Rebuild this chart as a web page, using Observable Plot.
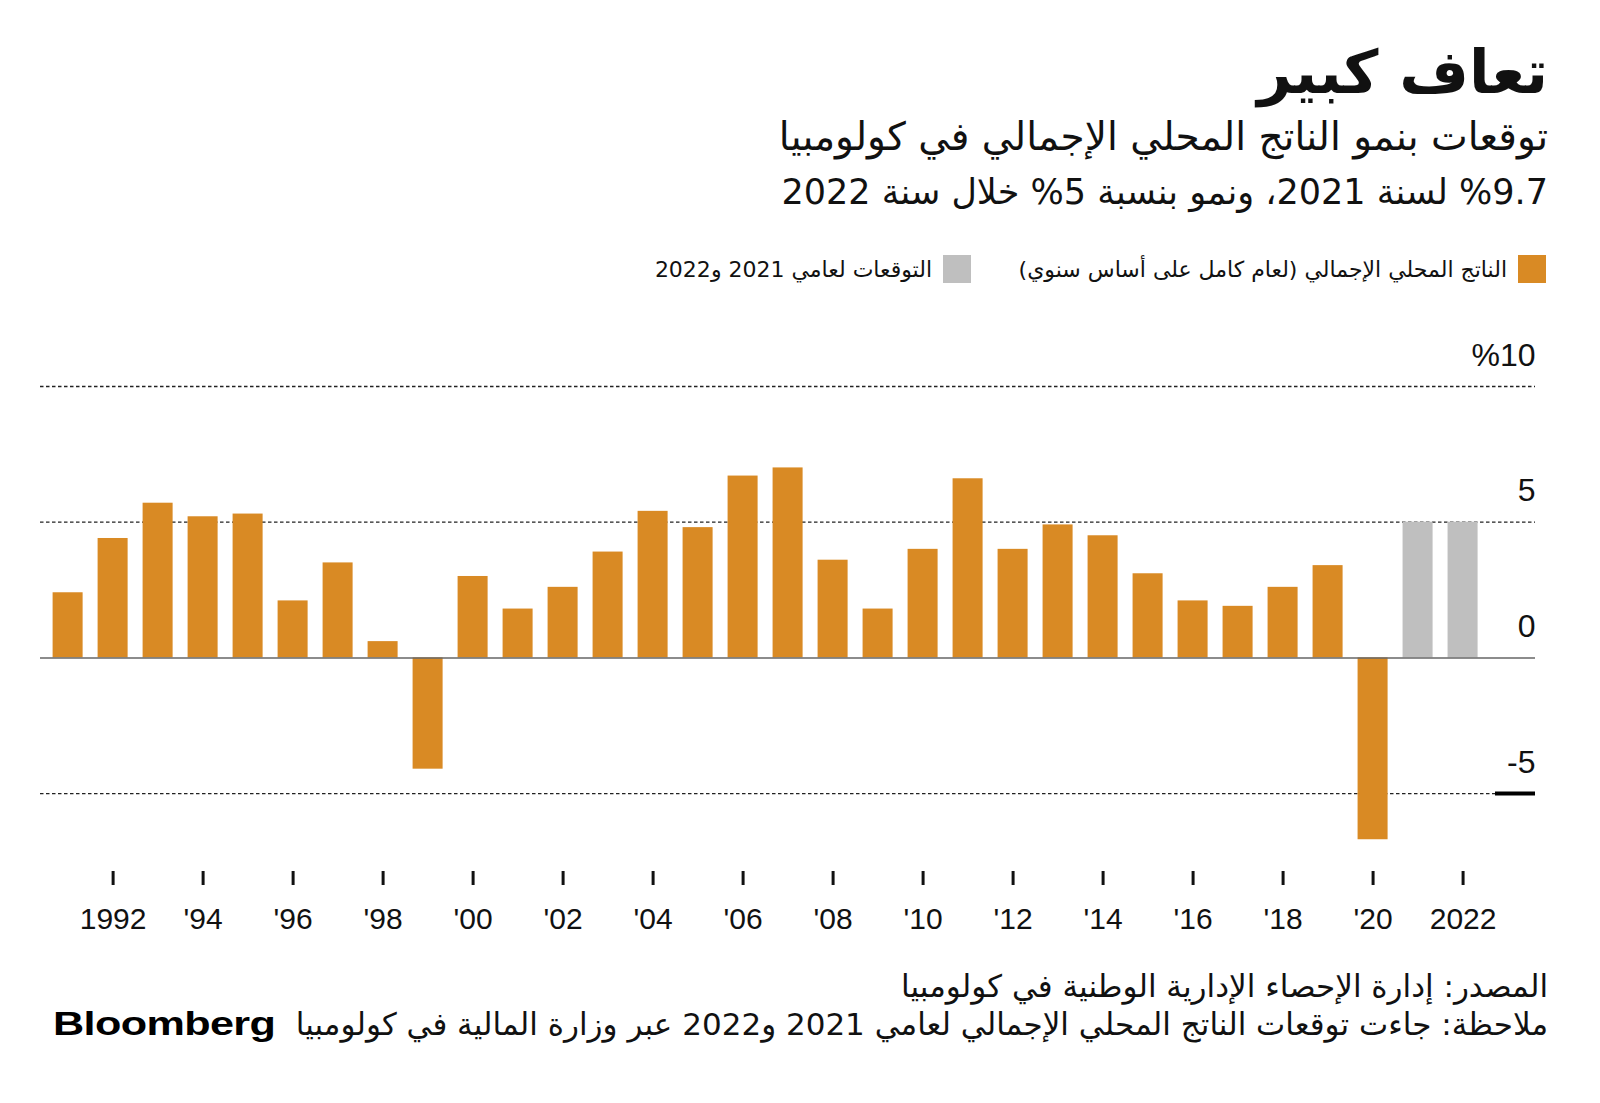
<!DOCTYPE html>
<html>
<head>
<meta charset="utf-8">
<script src="https://cdn.jsdelivr.net/npm/d3@7"></script>
<script src="https://cdn.jsdelivr.net/npm/@observablehq/plot@0.6"></script>
<style>
  html, body { margin: 0; padding: 0; background: #fff; }
  #root { position: relative; width: 1600px; height: 1103px; overflow: hidden; background: #fff; }
  .ar { position: absolute; direction: rtl; white-space: nowrap; font-family: "DejaVu Sans", sans-serif; color: #111; }
  #title { right: 52px; top: 36px; font-size: 60px; font-weight: bold; line-height: 72px; }
  #sub1 { right: 52px; top: 114px; font-size: 39px; line-height: 46px; }
  #sub2 { right: 52px; top: 170px; font-size: 35px; line-height: 44px; }
  .leg { position: absolute; top: 255px; height: 28px; display: flex; flex-direction: row-reverse; align-items: center; gap: 11px; }
  .sw { width: 28px; height: 28px; flex: none; }
  .lt { font-family: "DejaVu Sans", sans-serif; font-size: 22px; color: #111; direction: rtl; white-space: nowrap; }
  #chart { position: absolute; left: 0; top: 320px; }
  #src { right: 52px; top: 967px; font-size: 31px; line-height: 38px; }
  #note { right: 52px; top: 1005px; font-size: 31px; line-height: 38px; }
  #logo { position: absolute; left: 53px; top: 1003px; font-family: "Liberation Sans", Arial, sans-serif; font-weight: bold; font-size: 34px; line-height: 40px; letter-spacing: -0.5px; transform: scaleX(1.27); transform-origin: left center; color: #000; }
</style>
</head>
<body>
<div id="root">
  <div id="title" class="ar">تعاف كبير</div>
  <div id="sub1" class="ar">توقعات بنمو الناتج المحلي الإجمالي في كولومبيا</div>
  <div id="sub2" class="ar">%9.7 لسنة 2021، ونمو بنسبة 5% خلال سنة 2022</div>
  <div class="leg" style="right:54px;"><div class="sw" style="background:#D98A24"></div><div class="lt">الناتج المحلي الإجمالي (لعام كامل على أساس سنوي)</div></div>
  <div class="leg" style="right:629px;"><div class="sw" style="background:#BFBFBF"></div><div class="lt">التوقعات لعامي 2021 و2022</div></div>
  <div id="chart"></div>
  <div id="src" class="ar">المصدر: إدارة الإحصاء الإدارية الوطنية في كولومبيا</div>
  <div id="note" class="ar">ملاحظة: جاءت توقعات الناتج المحلي الإجمالي لعامي 2021 و2022 عبر وزارة المالية في كولومبيا</div>
  <div id="logo">Bloomberg</div>
</div>
<script>
// ---- Data ----
const actualYears = [1991,1992,1993,1994,1995,1996,1997,1998,1999,2000,2001,2002,2003,2004,2005,2006,2007,2008,2009,2010,2011,2012,2013,2014,2015,2016,2017,2018,2019,2020];
const actualValues = [2.4,4.4,5.7,5.2,5.3,2.1,3.5,0.6,-4.1,3.0,1.8,2.6,3.9,5.4,4.8,6.7,7.0,3.6,1.8,4.0,6.6,4.0,4.9,4.5,3.1,2.1,1.9,2.6,3.4,-6.7];
const forecastYears = [2021,2022];
const forecastValues = [5.0,5.0];
const xTickYears = [1992,1994,1996,1998,2000,2002,2004,2006,2008,2010,2012,2014,2016,2018,2020,2022];
const xTickLabels = ["1992","'94","'96","'98","'00","'02","'04","'06","'08","'10","'12","'14","'16","'18","'20","2022"];
const yTickValues = [10,5,0,-5];
const yTickLabels = ["%10","5","0","-5"];
const gridValues = [10,5,-5];

const ORANGE = "#D98A24";
const GRAY = "#BFBFBF";

const allYears = actualYears.concat(forecastYears);
const actual = actualYears.map((y, i) => ({year: y, value: actualValues[i]}));
const forecast = forecastYears.map((y, i) => ({year: y, value: forecastValues[i]}));
const xLabel = new Map(xTickYears.map((y, i) => [y, xTickLabels[i]]));
const yLabel = new Map(yTickValues.map((v, i) => [v, yTickLabels[i]]));

const chart = Plot.plot({
  width: 1600,
  height: 626,
  marginLeft: 40,
  marginRight: 65,
  marginTop: 66,
  marginBottom: 75,
  x: {type: "band", domain: allYears, paddingInner: 0.333, paddingOuter: 0.778, align: 0.18, label: null},
  y: {domain: [-7.87, 10], axis: null, label: null},
  style: {fontFamily: '"Liberation Sans", Arial, sans-serif', color: "#111", background: "#fff", overflow: "visible"},
  marks: [
    Plot.ruleY(gridValues, {stroke: "#222", strokeWidth: 1.3, strokeDasharray: "3.5,2.5"}),
    Plot.barY(actual, {x: "year", y: "value", fill: ORANGE}),
    Plot.barY(forecast, {x: "year", y: "value", fill: GRAY}),
    Plot.ruleY([0], {stroke: "#666", strokeWidth: 1.5}),
    Plot.ruleY([-5], {stroke: "#000", strokeWidth: 4, insetLeft: 1455}),
    Plot.axisX(xTickYears, {tickSize: 14, tickPadding: 22, strokeWidth: 3, stroke: "#111", fill: "#111", fontSize: 30, tickFormat: d => xLabel.get(d), label: null}),
    Plot.text(yTickValues, {y: d => d, frameAnchor: "right", textAnchor: "end", lineAnchor: "bottom", dy: -21, fontSize: 32, fill: "#111", text: d => yLabel.get(d)})
  ]
});
document.getElementById("chart").appendChild(chart);
</script>
</body>
</html>
